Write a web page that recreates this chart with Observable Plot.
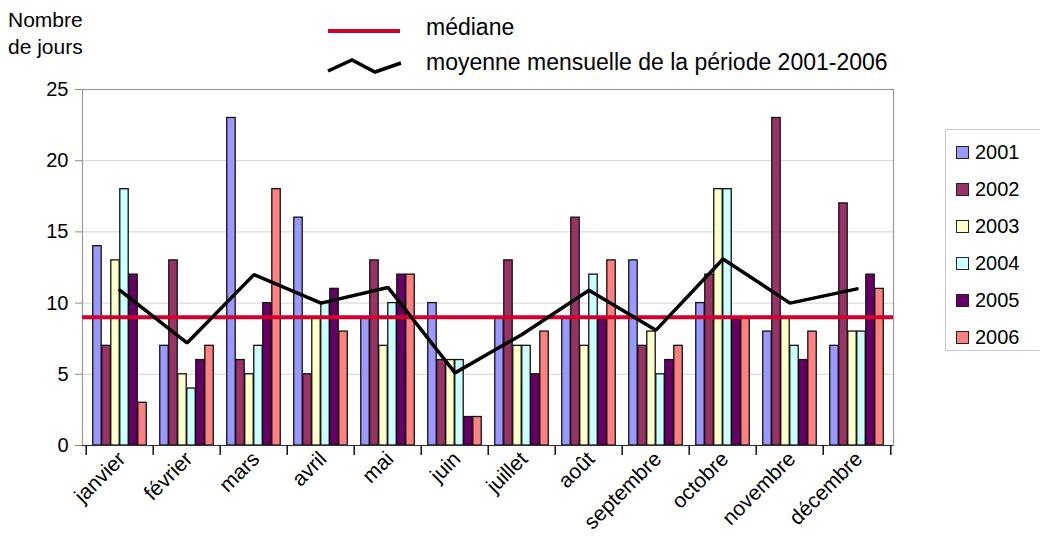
<!DOCTYPE html>
<html>
<head>
<meta charset="utf-8">
<script src="https://cdn.jsdelivr.net/npm/d3@7"></script>
<script src="https://cdn.jsdelivr.net/npm/@observablehq/plot@0.6"></script>
<style>
  html, body { margin: 0; padding: 0; background: #fff; }
  body { font-family: "Liberation Sans", Arial, sans-serif; color: #000; }
  #wrap { position: relative; width: 1040px; height: 553px; overflow: hidden; }
  #chart { position: absolute; left: 0; top: 0; }
  .txt { position: absolute; white-space: nowrap; line-height: 1; }
  #ytitle { left: 8px; top: 6px; font-size: 21px; line-height: 27px; }
  #toplegend .lab { position: absolute; left: 426px; font-size: 23px; line-height: 1; white-space: nowrap; }
  #rightlegend { position: absolute; left: 945px; top: 129px; width: 110px; height: 222px; border: 1px solid #c8c8c8; box-sizing: border-box; }
  .ritem { position: absolute; left: 10px; font-size: 20px; display: flex; align-items: center; }
  .sw { width: 11px; height: 11px; border: 1.5px solid #222; margin-right: 6px; }
</style>
</head>
<body>
<div id="wrap">
  <div id="chart"></div>
  <div id="ytitle" class="txt">Nombre<br>de jours</div>
  <div id="toplegend"></div>
  <div id="rightlegend"></div>
</div>
<script>
// ---- data ----
const months = ["janvier", "février", "mars", "avril", "mai", "juin", "juillet", "août", "septembre", "octobre", "novembre", "décembre"];
const years = ["2001", "2002", "2003", "2004", "2005", "2006"];
const v2001 = [14, 7, 23, 16, 9, 10, 9, 9, 13, 10, 8, 7];
const v2002 = [7, 13, 6, 5, 13, 6, 13, 16, 7, 12, 23, 17];
const v2003 = [13, 5, 5, 9, 7, 6, 7, 7, 8, 18, 9, 8];
const v2004 = [18, 4, 7, 10, 10, 6, 7, 12, 5, 18, 7, 8];
const v2005 = [12, 6, 10, 11, 12, 2, 5, 9, 6, 9, 6, 12];
const v2006 = [3, 7, 18, 8, 12, 2, 8, 13, 7, 9, 8, 11];
const meanMonthly = [10.9, 7.2, 12, 10, 11.1, 5.1, 7.8, 10.9, 8.1, 13.1, 10, 11];
const median = 9;
const yTicks = [0, 5, 10, 15, 20, 25];
const yearColors = ["#9999ff", "#993366", "#ffffcc", "#ccffff", "#660066", "#ff8080"];
const legendMedian = "médiane";
const legendMean = "moyenne mensuelle de la période 2001-2006";

// ---- table ----
const series = [v2001, v2002, v2003, v2004, v2005, v2006];
const rows = months.flatMap((m, i) => years.map((yr, k) => ({month: m, year: yr, value: series[k][i]})));
const meanRows = months.map((m, i) => ({month: m, value: meanMonthly[i]}));

// ---- layout ----
const W = 1040, H = 553;
const mL = 82, mR = 147, mT = 89, mB = 108;
const step = (W - mL - mR) / months.length;
const groupPad = 0.1 * step;
const barW = 0.8 * step / years.length;
const font = "Liberation Sans, Arial, sans-serif";

const barMarks = years.map((yr, k) => Plot.barY(rows.filter(d => d.year === yr), {
  x: "month", y: "value", fill: "year", stroke: "#111", strokeWidth: 1.3,
  insetLeft: groupPad + k * barW, insetRight: step - groupPad - (k + 1) * barW
}));

const chart = Plot.plot({
  width: W, height: H,
  marginLeft: mL, marginRight: mR, marginTop: mT, marginBottom: mB,
  style: {fontFamily: font, fontSize: "17px", background: "#fff", color: "#000"},
  x: {type: "band", domain: months, padding: 0, label: null},
  y: {domain: [0, 25], label: null},
  color: {domain: years, range: yearColors},
  marks: [
    Plot.gridY(yTicks.filter(t => t > 0 && t < 25), {stroke: "#d2d2d2", strokeOpacity: 1, strokeWidth: 1}),
    Plot.frame({stroke: "#9a9a9a", strokeWidth: 1.2}),
    Plot.axisY(yTicks, {tickSize: 7, tickPadding: 7, fontSize: 20, stroke: "#888", label: null}),
    ...barMarks,
    Plot.ruleY([0], {stroke: "#333", strokeWidth: 1.2}),
    Plot.axisX(months, {tickSize: 10, dx: -step / 2, tickFormat: () => "", stroke: "#111", strokeWidth: 1.5, label: null}),
    Plot.axisX([months[months.length - 1]], {tickSize: 10, dx: step / 2, tickFormat: () => "", stroke: "#111", strokeWidth: 1.5, label: null}),
    Plot.axisX(months, {tickSize: 0, tickRotate: -45, tickPadding: 10, fontSize: 21, dx: 2, label: null}),
    Plot.ruleY([median], {stroke: "#d4002c", strokeWidth: 4}),
    Plot.line(meanRows, {x: "month", y: "value", stroke: "#000", strokeWidth: 3.5, strokeLinejoin: "miter"})
  ]
});
document.getElementById("chart").appendChild(chart);

// ---- top legend ----
const tl = document.getElementById("toplegend");
tl.innerHTML = `
  <svg style="position:absolute;left:320px;top:15px" width="90" height="70">
    <line x1="8" y1="16" x2="80" y2="16" stroke="#d4002c" stroke-width="4"/>
    <polyline points="8,56 32,45 55,57 81,48" fill="none" stroke="#000" stroke-width="3.5"/>
  </svg>
  <div class="lab" style="top:16px">${legendMedian}</div>
  <div class="lab" style="top:51px">${legendMean}</div>`;

// ---- right legend ----
const rl = document.getElementById("rightlegend");
years.forEach((yr, k) => {
  const it = document.createElement("div");
  it.className = "ritem";
  it.style.top = (11 + k * 37) + "px";
  it.innerHTML = `<span class="sw" style="background:${yearColors[k]}"></span><span>${yr}</span>`;
  rl.appendChild(it);
});
</script>
</body>
</html>
